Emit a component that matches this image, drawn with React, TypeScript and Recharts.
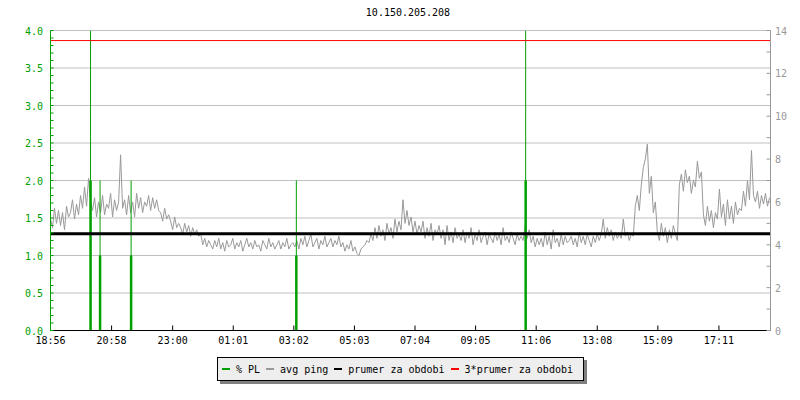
import React from "react";
import {
  ComposedChart,
  Line,
  XAxis,
  YAxis,
  CartesianGrid,
  ReferenceLine,
} from "recharts";

const title = "10.150.205.208";

// avg ping (ms), one sample every 4 minutes starting 18:56
const stepMinutes = 4;
const avgPing = [
  5.2, 4.8, 5.7, 5.0, 5.6, 4.9, 5.5, 4.7, 5.8, 5.3,
  5.5, 6.1, 5.2, 5.9, 5.4, 6.3, 5.7, 6.7, 5.8,
  7.1, 6.0,
  5.6, 6.2, 5.3, 6.0, 5.5, 6.3, 5.4, 5.9, 5.7, 6.4, 5.3, 6.1, 5.6, 6.0,
  8.2, 5.7,
  6.1, 5.4, 6.3, 5.5, 6.0, 5.3, 6.4, 5.7, 6.2, 5.5, 6.0,
  5.8, 6.3, 5.6, 6.2, 5.7, 6.1, 5.6,
  5.5, 5.1, 5.7, 5.2, 5.4,
  5.1, 4.7, 5.3, 4.8, 5.0,
  4.8, 4.5, 5.0, 4.6, 4.9, 4.4, 4.8, 4.5, 4.7, 4.4,
  4.5, 4.0, 4.3, 3.9, 4.2,
  4.0, 3.8, 4.2, 3.9, 4.3, 3.8, 4.1, 3.7, 4.2, 3.9,
  4.0, 4.3, 3.8, 4.1, 3.9, 4.2, 3.7, 4.0, 4.3, 3.9,
  4.1, 3.8, 4.2, 3.9, 4.0, 3.7, 4.2, 4.0, 3.8, 4.3,
  3.9, 4.1, 3.8, 4.0, 4.2, 3.8, 4.1, 3.9, 4.3, 3.8,
  4.0, 4.1, 3.9,
  4.2, 3.8, 4.3, 4.0, 4.4, 3.9, 4.2, 4.5, 3.9, 4.1,
  4.3, 3.8, 4.2, 4.0, 4.4, 3.9, 4.1, 4.3, 3.9, 4.2, 4.0, 4.4,
  3.9, 4.1, 3.7, 4.0, 3.8, 4.2, 3.7, 3.9, 3.6, 3.5, 3.8, 3.9,
  4.0, 4.2, 4.1,
  4.5, 4.2, 4.8, 4.3, 4.9, 4.4, 4.7, 4.2, 5.0, 4.5,
  4.8, 4.3, 5.2, 4.6,
  5.1, 4.7, 6.1, 5.0, 5.6, 4.9,
  5.3, 4.6, 5.1, 4.5, 4.9,
  4.6, 5.1, 4.3, 4.8, 4.4, 5.0, 4.2, 4.7, 4.5, 4.9,
  4.3, 4.7, 4.0, 4.9, 4.2, 4.6, 4.1, 4.8, 4.3, 4.5,
  4.2, 4.7, 4.1, 4.6, 4.3, 4.8, 4.0, 4.5, 4.2, 4.7, 4.1, 4.4, 4.6, 4.0, 4.5,
  4.3, 4.1, 4.6, 4.2, 4.5, 4.0, 4.8, 4.2, 4.4, 4.1, 4.6, 4.3, 4.0, 4.5, 4.2,
  4.4, 4.2, 4.9, 4.3, 4.7,
  4.1, 4.4, 3.9, 4.3, 4.0,
  4.3, 3.9, 4.6, 4.0, 4.4, 3.8, 4.7, 4.1, 4.3, 3.9, 4.5, 4.0, 4.4, 4.1, 4.2,
  4.4, 4.0, 4.3, 3.9, 4.6, 4.1, 4.4, 4.0, 4.5, 4.2, 3.9, 4.4, 4.1, 4.5, 4.2,
  4.5, 5.2, 4.3, 4.8, 4.4, 4.7, 4.2, 4.6, 4.3, 4.5,
  4.3, 5.2, 4.4, 4.6, 4.2, 4.5, 4.4,
  5.8, 6.3, 5.6,
  6.8, 7.6, 8.0, 8.7,
  6.4, 7.2, 5.5, 6.0,
  4.6, 4.2, 5.0, 4.4, 4.8, 4.1, 4.7, 4.3, 4.9, 4.5, 4.2,
  6.8, 7.3, 6.5, 7.5, 6.9, 7.2, 6.4, 7.0, 6.7, 7.9, 7.1, 7.4,
  5.4, 4.9, 5.8, 5.1, 5.6, 4.8, 5.5, 5.2,
  6.6, 5.3, 5.9, 4.9, 6.1, 5.2, 5.8, 5.0, 6.0, 5.4, 5.7,
  5.6, 6.5, 5.8, 7.0, 6.1, 8.4, 6.3,
  6.0, 6.5, 5.7, 6.3, 5.9, 6.4, 5.8, 6.2,
];

// packet loss events: minutes after 18:56, peak % and mean %
const plMinutes = [80, 99, 161, 491, 949];
const plPeak = [4.0, 2.0, 2.0, 2.0, 4.0];
const plMean = [2.0, 1.0, 1.0, 1.0, 2.0];

const prumer = 4.51;
const prumer3 = 13.53;

const xTickMinutes = [0, 122, 244, 365, 486, 607, 728, 849, 970, 1092, 1213, 1335];
const xTickLabels = [
  "18:56", "20:58", "23:00", "01:01", "03:02", "05:03",
  "07:04", "09:05", "11:06", "13:08", "15:09", "17:11",
];
const leftGrid = [0.5, 1.0, 1.5, 2.0, 2.5, 3.0, 3.5, 4.0];
const leftTicks = Array.from({ length: 41 }, (_, i) => i / 10);
const rightTicks = [0, 1, 2, 3, 4, 5, 6, 7, 8, 9, 10, 11, 12, 13, 14];

const pingData = avgPing.map((v, i) => ({ t: i * stepMinutes, ping: v }));
const plPeakData = plMinutes.flatMap((t, i) => [
  { t, pl: 0 },
  { t, pl: plPeak[i] },
  { t, pl: null },
]);
const plMeanData = plMinutes.flatMap((t, i) => [
  { t, pl: 0 },
  { t, pl: plMean[i] },
  { t, pl: null },
]);

const FONT = "'DejaVu Sans Mono', monospace";
const GREEN = "#00a000";
const GRAY = "#999999";

const LeftTick = (props: any) => {
  const v = props.payload.value;
  if (Math.round(v * 10) % 5 !== 0) return <g />;
  return (
    <text x={props.x} y={props.y} dy={4} textAnchor="end" fill={GREEN} fontSize={10} fontFamily={FONT}>
      {v.toFixed(1)}
    </text>
  );
};

const RightTick = (props: any) => {
  const v = props.payload.value;
  if (v % 2 !== 0) return <g />;
  return (
    <text x={props.x} y={props.y} dy={4} textAnchor="start" fill={GRAY} fontSize={10} fontFamily={FONT}>
      {v}
    </text>
  );
};

const BottomTick = (props: any) => {
  const idx = xTickMinutes.indexOf(props.payload.value);
  return (
    <text x={props.x} y={props.y} dy={18.5} textAnchor="middle" fill="#000" fontSize={10} fontFamily={FONT}>
      {xTickLabels[idx]}
    </text>
  );
};

const legendItems = [
  { label: "% PL", color: GREEN },
  { label: "avg ping", color: GRAY },
  { label: "prumer za obdobi", color: "#000000" },
  { label: "3*prumer za obdobi", color: "#ff0000" },
];

export default function App() {
  return (
    <div style={{ position: "absolute", left: 0, top: 0, width: 800, height: 400, background: "#fff" }}>
      <div
        style={{
          position: "absolute",
          left: 0,
          top: 7,
          width: 816,
          textAlign: "center",
          fontFamily: FONT,
          fontSize: 10,
          lineHeight: "12px",
          color: "#000",
        }}
      >
        {title}
      </div>
      <ComposedChart
        width={800}
        height={400}
        data={pingData}
        margin={{ top: 30.5, right: 0, bottom: 49.5, left: 0 }}
      >
        <CartesianGrid
          yAxisId="left"
          vertical={false}
          horizontalValues={leftGrid}
          stroke="#c0c0c0"
        />
        <XAxis
          dataKey="t"
          type="number"
          domain={[0, 1438]}
          ticks={xTickMinutes}
          interval={0}
          height={20}
          tickSize={-5}
          tickMargin={0}
          stroke="#000"
          tick={BottomTick}
          allowDataOverflow
        />
        <YAxis
          yAxisId="left"
          domain={[0, 4]}
          ticks={leftTicks}
          interval={0}
          width={50.5}
          tickSize={-3}
          tickMargin={10.5}
          stroke={GREEN}
          tick={LeftTick}
          allowDataOverflow
        />
        <YAxis
          yAxisId="right"
          orientation="right"
          domain={[0, 14]}
          ticks={rightTicks}
          interval={0}
          width={29.5}
          tickSize={-4}
          tickMargin={8.5}
          stroke={GRAY}
          tick={RightTick}
          allowDataOverflow
        />
        <Line
          yAxisId="right"
          dataKey="ping"
          type="linear"
          stroke={GRAY}
          strokeWidth={1}
          dot={false}
          isAnimationActive={false}
        />
        <Line
          yAxisId="left"
          data={plMeanData}
          dataKey="pl"
          type="linear"
          stroke={GREEN}
          strokeWidth={2.5}
          dot={false}
          connectNulls={false}
          isAnimationActive={false}
        />
        <Line
          yAxisId="left"
          data={plPeakData}
          dataKey="pl"
          type="linear"
          stroke={GREEN}
          strokeWidth={1}
          dot={false}
          connectNulls={false}
          isAnimationActive={false}
        />
        <ReferenceLine yAxisId="right" y={prumer} stroke="#000" strokeWidth={3} />
        <ReferenceLine yAxisId="right" y={prumer3} stroke="#ff0000" strokeWidth={1} />
      </ComposedChart>
      <div
        style={{
          position: "absolute",
          left: 217,
          top: 357,
          width: 361,
          height: 22,
          background: "#eeeeee",
          border: "1px solid #000",
          boxShadow: "3px 3px 0 #808080",
          display: "flex",
          alignItems: "center",
          paddingLeft: 4,
          fontFamily: FONT,
          fontSize: 10,
          color: "#000",
          whiteSpace: "pre",
        }}
      >
        {legendItems.map((it) => (
          <span key={it.label} style={{ display: "flex", alignItems: "center", marginRight: 6 }}>
            <span style={{ display: "inline-block", width: 8, height: 2, background: it.color, marginRight: 6 }} />
            {it.label}
          </span>
        ))}
      </div>
    </div>
  );
}
